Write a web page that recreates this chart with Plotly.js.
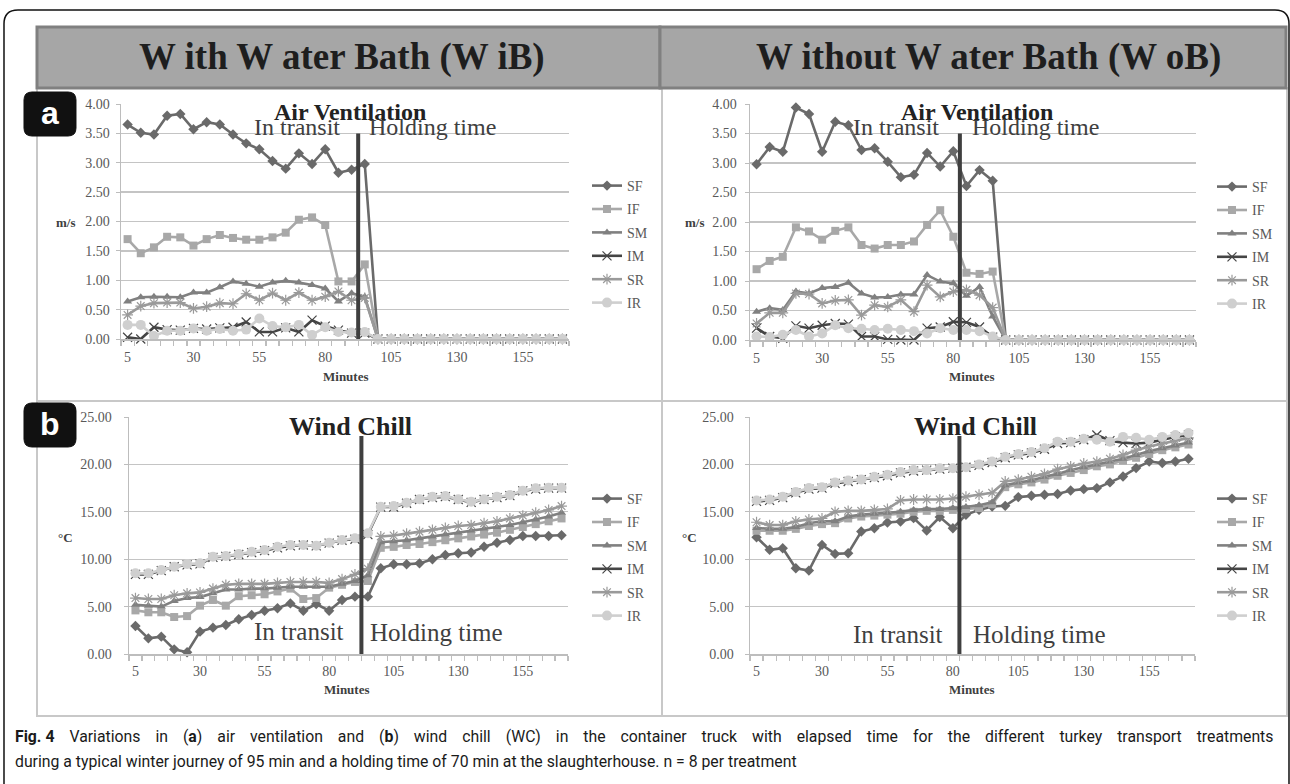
<!DOCTYPE html>
<html>
<head>
<meta charset="utf-8">
<script src="https://cdn.plot.ly/plotly-3.0.1.min.js"></script>
<style>
html,body{margin:0;padding:0;background:#fff;}
#chart{width:1290px;height:784px;}
</style>
</head>
<body>
<div id="chart"></div>
<script>
// ---------------- DATA ----------------
const minutes = [5,10,15,20,25,30,35,40,45,50,55,60,65,70,75,80,85,90,95,100,105,110,115,120,125,130,135,140,145,150,155,160,165,170];
const xTickVals = [5,30,55,80,105,130,155];
const seriesNames = ["SF","IF","SM","IM","SR","IR"];

// (a) Air ventilation, m/s — With Water Bath (WiB)
const avWiB_SF = [3.65,3.51,3.48,3.80,3.83,3.57,3.69,3.65,3.48,3.33,3.23,3.03,2.90,3.16,2.98,3.23,2.83,2.88,2.98,0,0,0,0,0,0,0,0,0,0,0,0,0,0,0];
const avWiB_IF = [1.70,1.46,1.56,1.74,1.73,1.59,1.70,1.77,1.72,1.69,1.69,1.73,1.81,2.03,2.07,1.94,0.98,0.98,1.27,0,0,0,0,0,0,0,0,0,0,0,0,0,0,0];
const avWiB_SM = [0.64,0.71,0.72,0.72,0.71,0.79,0.79,0.88,0.98,0.94,0.89,0.96,0.99,0.96,0.92,0.86,0.64,0.78,0.72,0,0,0,0,0,0,0,0,0,0,0,0,0,0,0];
const avWiB_IM = [0.03,0.00,0.20,0.16,0.15,0.18,0.17,0.19,0.20,0.29,0.12,0.12,0.19,0.12,0.32,0.22,0.15,0.10,0.10,0,0,0,0,0,0,0,0,0,0,0,0,0,0,0];
const avWiB_SR = [0.41,0.56,0.61,0.62,0.62,0.52,0.55,0.61,0.60,0.77,0.66,0.78,0.66,0.79,0.66,0.72,0.81,0.66,0.70,0,0,0,0,0,0,0,0,0,0,0,0,0,0,0];
const avWiB_IR = [0.24,0.24,0.05,0.14,0.14,0.18,0.14,0.17,0.14,0.16,0.35,0.22,0.20,0.24,0.07,0.20,0.12,0.11,0.12,0,0,0,0,0,0,0,0,0,0,0,0,0,0,0];

// (a) Air ventilation, m/s — Without Water Bath (WoB)
const avWoB_SF = [2.98,3.27,3.19,3.94,3.83,3.19,3.70,3.64,3.22,3.25,3.02,2.76,2.80,3.17,2.94,3.20,2.61,2.88,2.70,0,0,0,0,0,0,0,0,0,0,0,0,0,0,0];
const avWoB_IF = [1.20,1.34,1.41,1.91,1.84,1.70,1.85,1.91,1.61,1.55,1.61,1.61,1.67,1.95,2.20,1.75,1.14,1.12,1.16,0,0,0,0,0,0,0,0,0,0,0,0,0,0,0];
const avWoB_SM = [0.48,0.54,0.51,0.82,0.79,0.88,0.90,0.97,0.79,0.72,0.73,0.77,0.77,1.10,0.99,0.96,0.75,0.90,0.40,0,0,0,0,0,0,0,0,0,0,0,0,0,0,0];
const avWoB_IM = [0.20,0.06,0.03,0.24,0.20,0.25,0.28,0.27,0.06,0.06,0.01,0.00,0.00,0.20,0.22,0.31,0.30,0.22,0.05,0,0,0,0,0,0,0,0,0,0,0,0,0,0,0];
const avWoB_SR = [0.28,0.46,0.46,0.79,0.78,0.62,0.67,0.68,0.42,0.59,0.56,0.68,0.48,0.93,0.73,0.82,0.85,0.76,0.55,0,0,0,0,0,0,0,0,0,0,0,0,0,0,0];
const avWoB_IR = [0.06,0.05,0.09,0.17,0.06,0.11,0.25,0.20,0.19,0.17,0.19,0.17,0.15,0.11,0.20,0.17,0.17,0.15,0.06,0,0,0,0,0,0,0,0,0,0,0,0,0,0,0];

// (b) Wind chill, °C — With Water Bath (WiB)
const wcWiB_SF = [2.95,1.65,1.83,0.49,0.18,2.36,2.78,3.06,3.66,4.11,4.57,4.82,5.34,4.57,5.27,4.57,5.70,6.05,6.05,9.04,9.46,9.46,9.56,9.99,10.44,10.62,10.70,11.32,11.74,12.03,12.45,12.45,12.45,12.52];
const wcWiB_IF = [4.6,4.4,4.4,3.9,4.0,5.1,5.7,5.1,6.1,6.2,6.3,6.6,6.9,5.8,5.9,7.0,7.3,7.6,7.7,11.2,11.3,11.5,11.6,11.8,12.0,12.2,12.4,12.6,12.8,13.1,13.4,13.7,14.0,14.3];
const wcWiB_SM = [5.2,5.1,5.0,5.6,5.9,6.0,6.4,6.8,6.8,6.9,6.9,7.0,7.1,7.1,7.1,7.1,7.4,7.7,8.3,11.8,11.9,12.0,12.2,12.4,12.6,12.8,13.0,13.2,13.4,13.6,13.9,14.2,14.5,14.9];
const wcWiB_IM = [8.4,8.4,8.8,9.2,9.4,9.5,10.2,10.3,10.5,10.7,10.9,11.2,11.4,11.5,11.4,11.7,12.0,12.1,12.6,15.5,15.5,15.9,16.3,16.5,16.6,16.3,16.0,16.3,16.5,16.7,17.2,17.4,17.5,17.5];
const wcWiB_SR = [5.9,5.8,5.8,6.2,6.4,6.5,6.9,7.3,7.4,7.4,7.4,7.5,7.6,7.6,7.6,7.5,7.9,8.4,9.0,12.4,12.5,12.7,12.9,13.1,13.3,13.5,13.6,13.8,14.0,14.3,14.6,14.9,15.2,15.6];
const wcWiB_IR = [8.51,8.51,8.86,9.21,9.49,9.56,10.27,10.34,10.55,10.79,10.97,11.32,11.50,11.50,11.43,11.74,12.03,12.20,12.73,15.54,15.60,15.96,16.32,16.60,16.67,16.32,16.07,16.32,16.60,16.77,17.23,17.48,17.55,17.55];

// (b) Wind chill, °C — Without Water Bath (WoB)
const wcWoB_SF = [12.32,10.99,11.16,9.05,8.80,11.51,10.56,10.63,12.92,13.27,13.87,13.98,14.33,13.03,14.44,13.27,14.68,15.20,15.56,15.63,16.55,16.69,16.80,16.87,17.25,17.39,17.50,18.10,18.73,19.61,20.30,20.14,20.30,20.60];
const wcWoB_IF = [13.0,13.0,13.0,13.2,13.5,13.7,13.8,14.3,14.5,14.6,14.7,14.8,15.0,15.1,15.1,15.2,15.3,15.4,15.8,17.6,17.9,18.1,18.4,18.8,19.1,19.4,19.8,20.0,20.4,20.7,21.1,21.5,21.8,22.1];
const wcWoB_SM = [13.3,13.2,13.2,13.4,13.8,14.0,14.0,14.5,14.7,14.8,14.9,15.0,15.2,15.3,15.3,15.4,15.5,15.7,16.0,17.8,18.1,18.3,18.7,19.0,19.4,19.7,20.0,20.3,20.6,21.0,21.4,21.7,22.0,22.3];
const wcWoB_IM = [16.1,16.2,16.5,17.0,17.4,17.5,18.0,18.2,18.4,18.6,18.8,19.1,19.3,19.4,19.5,19.6,19.7,19.9,20.2,20.7,21.0,21.2,21.6,22.2,22.3,22.6,23.1,22.5,22.3,22.2,22.3,22.6,22.9,23.1];
const wcWoB_SR = [13.9,13.6,13.6,14.0,14.2,14.3,15.0,15.1,15.1,15.2,15.3,16.2,16.3,16.3,16.3,16.4,16.6,16.8,17.0,18.2,18.4,18.7,19.0,19.5,19.8,20.1,20.3,20.6,21.0,21.5,21.9,22.2,22.5,22.8];
const wcWoB_IR = [16.2,16.3,16.6,17.1,17.5,17.6,18.1,18.3,18.4,18.7,18.9,19.2,19.4,19.4,19.6,19.6,19.7,20.0,20.3,20.8,21.1,21.3,21.7,22.4,22.4,22.7,22.6,22.4,22.9,22.8,22.6,22.9,23.1,23.3];

// caption text
const captionLine1Words = ["<b>Fig.", "4</b>", "Variations", "in", "(<b>a</b>)", "air", "ventilation", "and", "(<b>b</b>)", "wind", "chill", "(WC)", "in", "the", "container", "truck", "with", "elapsed", "time", "for", "the", "different", "turkey", "transport", "treatments"];
const captionLine2 = "during a typical winter journey of 95 min and a holding time of 70 min at the slaughterhouse. n = 8 per treatment";

// ---------------- STYLE ----------------
const W = 1290, H = 784;
const PX = v => v / W;
const PY = v => 1 - v / H;
const SERIF = "Liberation Serif, Times New Roman, serif";

const style = {
  SF: {color:"#6a6a6a", symbol:"diamond", size:8, open:false},
  IF: {color:"#a8a8a8", symbol:"square", size:8, open:false},
  SM: {color:"#808080", symbol:"triangle-up", size:8, open:false},
  IM: {color:"#454545", symbol:"x-thin-open", size:9, open:true},
  SR: {color:"#9a9a9a", symbol:"asterisk-open", size:9, open:true},
  IR: {color:"#cfcfcf", symbol:"circle", size:10, open:false}
};

const panels = [
  {key:"tl", xa:"x",  ya:"y",  legend:"legend",  data:[avWiB_SF,avWiB_IF,avWiB_SM,avWiB_IM,avWiB_SR,avWiB_IR]},
  {key:"tr", xa:"x2", ya:"y2", legend:"legend2", data:[avWoB_SF,avWoB_IF,avWoB_SM,avWoB_IM,avWoB_SR,avWoB_IR]},
  {key:"bl", xa:"x3", ya:"y3", legend:"legend3", data:[wcWiB_SF,wcWiB_IF,wcWiB_SM,wcWiB_IM,wcWiB_SR,wcWiB_IR]},
  {key:"br", xa:"x4", ya:"y4", legend:"legend4", data:[wcWoB_SF,wcWoB_IF,wcWoB_SM,wcWoB_IM,wcWoB_SR,wcWoB_IR]}
];

const traces = [];
panels.forEach(p => {
  seriesNames.forEach((name, i) => {
    const s = style[name];
    traces.push({
      type:"scatter", mode:"lines+markers", name:name,
      x:minutes, y:p.data[i], xaxis:p.xa, yaxis:p.ya,
      legend:p.legend, legendgroup:p.key + name,
      line:{color:s.color, width:2.6},
      marker:{symbol:s.symbol, size:s.size, color:s.color,
              line:{color:s.color, width:s.open ? 1.2 : 0}},
      cliponaxis:false, hoverinfo:"skip"
    });
  });
});

function xAxis(l, r, anchor, standoff){
  return {
    domain:[PX(l), PX(r)], anchor:anchor, range:[2.5,172.5],
    tickmode:"array", tickvals:xTickVals, ticks:"", ticklabelstandoff:standoff,
    showgrid:false, zeroline:false, showline:true, linecolor:"#bdbdbd", linewidth:1.5,
    tickfont:{family:SERIF, size:14, color:"#595959"},
    minor:{ticks:"outside", tickmode:"linear", tick0:2.5, dtick:5, ticklen:5,
           tickcolor:"#bdbdbd", tickwidth:1.3, showgrid:false},
    fixedrange:true
  };
}
function yAxis(t, b, anchor, max, dt, standoff){
  return {
    domain:[PY(b), PY(t)], anchor:anchor, range:[0,max], tick0:0, dtick:dt,
    tickformat:".2f", showgrid:true, gridcolor:"#c4c4c4", gridwidth:1.4,
    zeroline:false, showline:true, linecolor:"#bdbdbd", linewidth:1.5,
    ticks:"outside", ticklen:4, tickcolor:"#bdbdbd", ticklabelstandoff:standoff,
    tickfont:{family:SERIF, size:14, color:"#595959"}, fixedrange:true
  };
}

function rectShape(x0,y0,x1,y1,lineColor,lw,fill){
  return {type:"rect", xref:"paper", yref:"paper", x0:PX(x0), x1:PX(x1), y0:PY(y1), y1:PY(y0),
          line:{color:lineColor, width:lw}, fillcolor:fill || "rgba(0,0,0,0)", layer:"above"};
}
function roundRect(x0,y0,x1,y1,r,lineColor,lw,fill){
  const P = (x,y) => PX(x).toFixed(5) + "," + PY(y).toFixed(5);
  const path = "M" + P(x0+r,y0) + " L" + P(x1-r,y0) + " Q" + P(x1,y0) + " " + P(x1,y0+r) +
               " L" + P(x1,y1-r) + " Q" + P(x1,y1) + " " + P(x1-r,y1) +
               " L" + P(x0+r,y1) + " Q" + P(x0,y1) + " " + P(x0,y1-r) +
               " L" + P(x0,y0+r) + " Q" + P(x0,y0) + " " + P(x0+r,y0) + " Z";
  return {type:"path", xref:"paper", yref:"paper", path:path,
          line:{color:lineColor, width:lw}, fillcolor:fill || "rgba(0,0,0,0)", layer:"above"};
}
function vLine(xa, ya, xv, top){
  return {type:"line", xref:xa, yref:ya, x0:xv, x1:xv, y0:0, y1:top,
          line:{color:"#3f3f3f", width:4}, layer:"above"};
}

const shapes = [
  roundRect(4,10,1289,800,14,"#111",1.5),
  rectShape(37,88,662,401,"#c8c8c8",2),
  rectShape(662,88,1287,401,"#c8c8c8",2),
  rectShape(37,401,662,716,"#c8c8c8",2),
  rectShape(662,401,1287,716,"#c8c8c8",2),
  rectShape(37,27,660,88,"#808080",3,"#a6a6a6"),
  rectShape(660,27,1286,88,"#808080",3,"#a6a6a6"),
  roundRect(24,92,76,136,8,"#111",1,"#111"),
  roundRect(24,403,76,447,8,"#111",1,"#111"),
  vLine("x","y",92.5,3.5),
  vLine("x2","y2",82.5,3.5),
  vLine("x3","y3",92.5,23),
  vLine("x4","y4",82.5,23)
];

function ann(text, x, y, size, color, opts){
  return Object.assign({text:text, xref:"paper", yref:"paper", x:PX(x), y:PY(y),
    xanchor:"center", yanchor:"middle", showarrow:false,
    font:{family:SERIF, size:size, color:color}}, opts || {});
}

// justified first caption line: wider word gaps
const JGAP = " \u00A0\u00A0\u2009";
const CAPFONT = {family:"Roboto, sans-serif", size:15.8, color:"#1a1a1a"};

const annotations = [
  ann("<b>W ith W ater Bath (W iB)</b>", 342, 57, 37, "#1e1e1e"),
  ann("<b>W ithout W ater Bath (W oB)</b>", 988, 57, 37, "#1e1e1e"),
  ann("<b>a</b>", 50, 113, 32, "#ffffff", {font:{family:"Liberation Sans, Arial, sans-serif", size:32, color:"#fff"}}),
  ann("<b>b</b>", 50, 424, 32, "#ffffff", {font:{family:"Liberation Sans, Arial, sans-serif", size:32, color:"#fff"}}),
  // panel a titles
  ann("<b>Air Ventilation</b>", 350, 112, 24, "#222"),
  ann("In transit", 297, 127, 24, "#404040"),
  ann("Holding time", 433, 127, 24, "#404040"),
  ann("<b>Air Ventilation</b>", 977, 112, 24, "#222"),
  ann("In transit", 896, 127, 24, "#404040"),
  ann("Holding time", 1035, 127, 24, "#404040"),
  // panel b titles
  ann("<b>Wind Chill</b>", 350, 427, 26, "#222"),
  ann("In transit", 299, 631, 25, "#404040"),
  ann("Holding time", 436, 632, 25, "#404040"),
  ann("<b>Wind Chill</b>", 975, 427, 26, "#222"),
  ann("In transit", 898, 634, 25, "#404040"),
  ann("Holding time", 1039, 634, 25, "#404040"),
  // axis titles
  ann("<b>m/s</b>", 66, 222, 13, "#404040"),
  ann("<b>m/s</b>", 695, 222, 13, "#404040"),
  ann("<b>°C</b>", 65, 537, 13, "#404040"),
  ann("<b>°C</b>", 690, 537, 13, "#404040"),
  ann("<b>Minutes</b>", 346, 376, 13, "#404040"),
  ann("<b>Minutes</b>", 972, 376, 13, "#404040"),
  ann("<b>Minutes</b>", 347, 689, 13, "#404040"),
  ann("<b>Minutes</b>", 972, 689, 13, "#404040"),
  // caption
  ann(captionLine1Words.join(JGAP).replace("<b>Fig." + JGAP + "4</b>", "<b>Fig. 4</b>"),
      13, 736, 15.8, "#1a1a1a", {xanchor:"left", font:CAPFONT}),
  ann(captionLine2, 13, 761, 15.8, "#1a1a1a", {xanchor:"left", font:CAPFONT})
];

function legendAt(x, y){
  return {x:PX(x), y:PY(y), xanchor:"left", yanchor:"top", bgcolor:"rgba(0,0,0,0)",
          borderwidth:0, font:{family:SERIF, size:14, color:"#595959"},
          tracegroupgap:2.2, itemwidth:30, traceorder:"grouped", itemsizing:"trace"};
}

const layout = {
  width:W, height:H, margin:{l:0,r:0,t:0,b:0},
  paper_bgcolor:"#ffffff", plot_bgcolor:"rgba(0,0,0,0)",
  showlegend:true,
  xaxis:xAxis(121,569,"y",5),   yaxis:yAxis(104,339,"x",4,0.5,3),
  xaxis2:xAxis(750,1196,"y2",5), yaxis2:yAxis(104,340,"x2",4,0.5,5),
  xaxis3:xAxis(129,568,"y3",4), yaxis3:yAxis(417,654,"x3",25,5,9),
  xaxis4:xAxis(750,1195,"y4",4), yaxis4:yAxis(417,654,"x4",25,5,8),
  legend:legendAt(587,170), legend2:legendAt(1212,171),
  legend3:legendAt(587,483), legend4:legendAt(1212,483),
  shapes:shapes, annotations:annotations
};

Plotly.newPlot("chart", traces, layout, {staticPlot:true, displayModeBar:false});
</script>
</body>
</html>
